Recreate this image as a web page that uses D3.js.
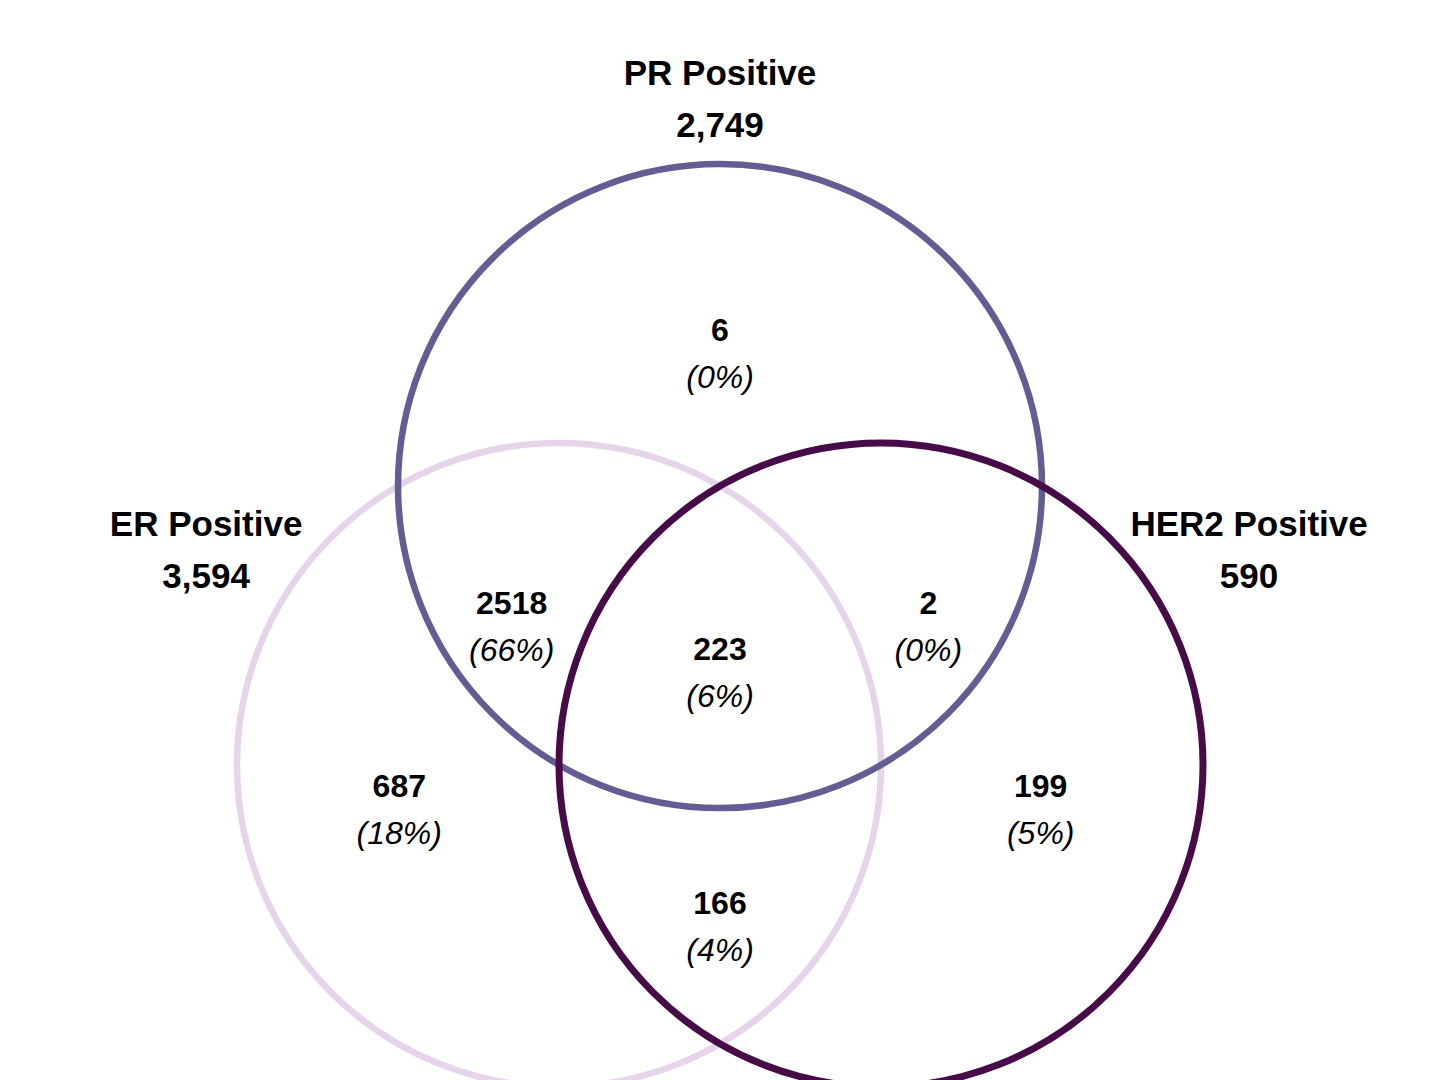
<!DOCTYPE html>
<html>
<head>
<meta charset="utf-8">
<script src="https://cdn.jsdelivr.net/npm/d3@7"></script>
<style>
	html, body { margin: 0; padding: 0; background: #ffffff; }
	svg text { font-family: "Liberation Sans", Arial, Helvetica, sans-serif; fill: #000000; }
	.setTitle { font-size: 35px; font-weight: bold; }
	.count { font-size: 32px; font-weight: bold; }
	.pct { font-size: 32px; font-style: italic; }
</style>
</head>
<body>
<div id="chart"></div>
<script>

// sets and their colours
let setKeys		= ["ER", "PR", "HER2"],
	setNames	= ["ER Positive", "PR Positive", "HER2 Positive"],
	setColors	= ["#e6d5ea", "#645d93", "#470b48"];

// venn regions (which sets each region belongs to) and their counts
let regionSets	= [["PR"], ["ER", "PR"], ["PR", "HER2"], ["ER", "PR", "HER2"], ["ER"], ["HER2"], ["ER", "HER2"]],
	regionCounts = [6, 2518, 2, 223, 687, 199, 166];


function draw () {

	let width 	= 1440,
		height 	= 1080,
		cx 		= 720,
		cy 		= 672,
		radius 	= 322;

	let svg = d3.select("#chart")
		.append("svg")
			.attr("width", width)
			.attr("height", height);

	// layout in units of one circle radius, centroid at origin
	let xScale = d3.scaleLinear()
		.domain([-1, 1])
		.range([cx - radius, cx + radius]);

	let yScale = d3.scaleLinear()
		.domain([-1, 1])
		.range([cy - radius, cy + radius]);

	// circle centres sit on an equilateral triangle, side = radius
	let h = 1 / Math.sqrt(3);
	let centres = {
		ER   : [-0.5, h / 2],
		PR   : [0, -h],
		HER2 : [0.5, h / 2]
	};

	// where the set titles and region labels go (radius units)
	let titlePos = {
		ER   : [-1.596, -0.38],
		PR   : [0, -1.78],
		HER2 : [1.643, -0.38]
	};

	let labelPos = {
		"PR"          : [0, -0.99],
		"ER,PR"       : [-0.647, -0.143],
		"PR,HER2"     : [0.647, -0.143],
		"ER,PR,HER2"  : [0, 0],
		"ER"          : [-0.996, 0.424],
		"HER2"        : [0.996, 0.424],
		"ER,HER2"     : [0, 0.79]
	};

	let total = d3.sum(regionCounts);

	let setTotals = setKeys.map(function (k) {
		return d3.sum(regionSets, function (s, i) { return s.indexOf(k) > -1 ? regionCounts[i] : 0; });
	});

	// circles
	svg.selectAll(".setCircle")
		.data(setKeys)
			.enter()
				.append("circle")
					.classed("setCircle", true)
					.attr("cx", function (d) { return xScale(centres[d][0]); })
					.attr("cy", function (d) { return yScale(centres[d][1]); })
					.attr("r", xScale(1) - xScale(0))
					.style("fill", "none")
					.style("stroke", function (d, i) { return setColors[i]; })
					.style("stroke-width", function (d) { return d == "HER2" ? 7 : 6.5; });

	// set titles
	let titles = svg.selectAll(".titleG")
		.data(setKeys)
			.enter()
				.append("g")
					.attr("transform", function (d) {
						return "translate(" + xScale(titlePos[d][0]) + "," + yScale(titlePos[d][1]) + ")";
					});

	titles.append("text")
		.classed("setTitle", true)
		.attr("text-anchor", "middle")
		.attr("y", -14)
		.text(function (d, i) { return setNames[i]; });

	titles.append("text")
		.classed("setTitle", true)
		.attr("text-anchor", "middle")
		.attr("y", 38)
		.text(function (d, i) { return d3.format(",")(setTotals[i]); });

	// region labels
	let regions = svg.selectAll(".regionG")
		.data(regionSets)
			.enter()
				.append("g")
					.attr("transform", function (d) {
						let p = labelPos[d.join(",")];
						return "translate(" + xScale(p[0]) + "," + yScale(p[1]) + ")";
					});

	regions.append("text")
		.classed("count", true)
		.attr("text-anchor", "middle")
		.attr("y", -12)
		.text(function (d, i) { return regionCounts[i]; });

	regions.append("text")
		.classed("pct", true)
		.attr("text-anchor", "middle")
		.attr("y", 35)
		.text(function (d, i) { return "(" + Math.round(regionCounts[i] / total * 100) + "%)"; });
};

draw();

</script>
</body>
</html>
